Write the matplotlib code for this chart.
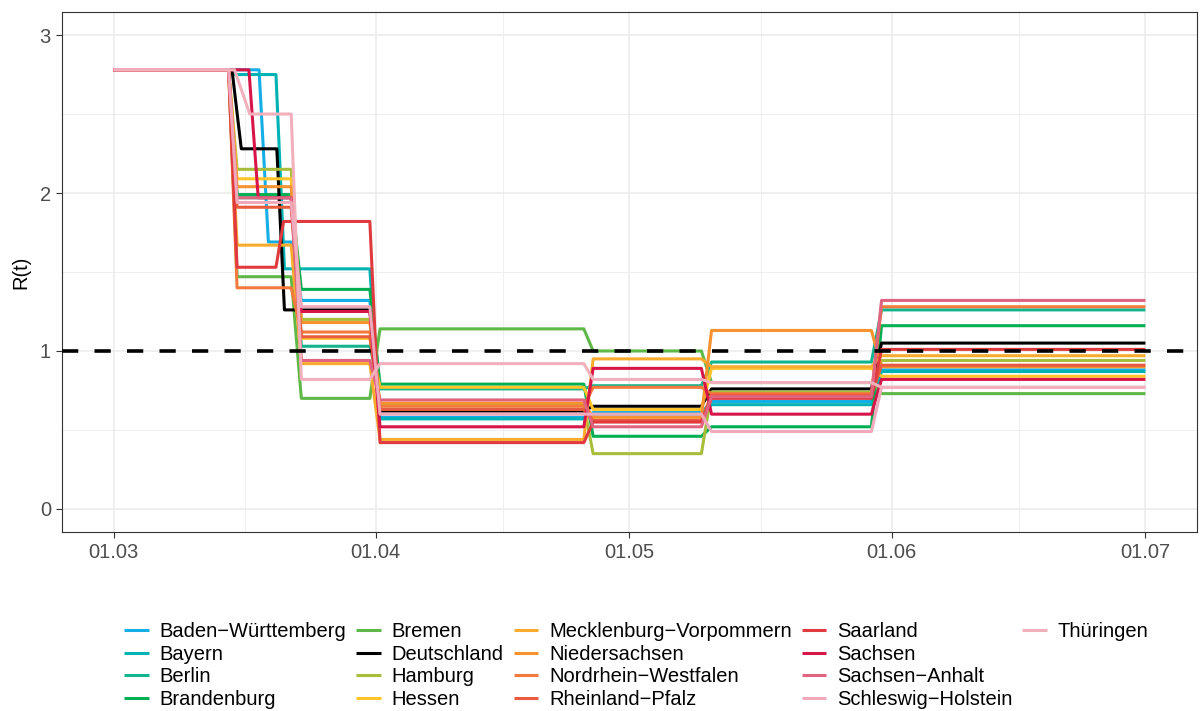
import matplotlib
matplotlib.use("Agg")
import matplotlib.pyplot as plt
import matplotlib.dates as mdates
from matplotlib.lines import Line2D
import numpy as np
import pandas as pd

plt.rcParams['font.family'] = ['Liberation Sans', 'DejaVu Sans']

# ---------------- data ----------------
states = ["Baden\u2212Württemberg", "Bayern", "Berlin", "Brandenburg", "Bremen",
          "Deutschland", "Hamburg", "Hessen", "Mecklenburg\u2212Vorpommern",
          "Niedersachsen", "Nordrhein\u2212Westfalen", "Rheinland\u2212Pfalz",
          "Saarland", "Sachsen", "Sachsen\u2212Anhalt", "Schleswig\u2212Holstein",
          "Thüringen"]

colors = ["#13AEE6", "#00B2B3", "#12B48E", "#00AF52", "#5DB848",
          "#000000", "#A8BD3A", "#FFC42A", "#F9AB2E",
          "#F7932F", "#F37A3C", "#E85B3E",
          "#E0393E", "#D71549", "#E06380", "#F0A9BB",
          "#F2B0BC"]

# R(t) value of each phase (7 phases separated by 6 change points)
R_bw   = [2.78, 1.69, 1.32, 0.58, 0.61, 0.68, 0.88]
R_by   = [2.78, 2.75, 1.52, 0.57, 0.60, 0.66, 0.87]
R_be   = [2.78, 1.97, 1.03, 0.76, 0.78, 0.93, 1.26]
R_bb   = [2.78, 1.99, 1.39, 0.79, 0.46, 0.52, 1.16]
R_hb   = [2.78, 1.47, 0.70, 1.14, 1.00, 0.80, 0.73]
R_de   = [2.78, 2.28, 1.26, 0.62, 0.65, 0.76, 1.05]
R_hh   = [2.78, 2.15, 1.20, 0.66, 0.35, 0.74, 0.94]
R_he   = [2.78, 2.09, 1.08, 0.77, 0.63, 0.89, 0.84]
R_mv   = [2.78, 1.67, 0.92, 0.44, 0.95, 0.90, 0.97]
R_ni   = [2.78, 2.04, 1.18, 0.67, 0.58, 1.13, 0.90]
R_nw   = [2.78, 1.40, 1.12, 0.65, 0.77, 0.73, 1.28]
R_rp   = [2.78, 1.91, 1.09, 0.63, 0.56, 0.72, 0.91]
R_sl   = [2.78, 1.53, 1.82, 0.42, 0.55, 0.70, 1.01]
R_sn   = [2.78, 1.97, 1.25, 0.52, 0.89, 0.60, 0.82]
R_st   = [2.78, 1.97, 0.94, 0.69, 0.52, 0.71, 1.32]
R_sh   = [2.78, 1.94, 1.28, 0.60, 0.60, 0.49, 0.77]
R_th   = [2.78, 2.50, 0.82, 0.92, 0.82, 0.80, 0.77]
values = [R_bw, R_by, R_be, R_bb, R_hb, R_de, R_hh, R_he, R_mv, R_ni, R_nw,
          R_rp, R_sl, R_sn, R_st, R_sh, R_th]

# change points: days after 2020-03-01 where a transition starts, and its length
change_start = [13.6, 21.0, 30.3, 55.6, 69.5, 89.6]
change_len   = [1.0, 1.2, 1.2, 1.1, 1.2, 1.2]
# series-specific change point timing (index: {change_no: (start, length)})
change_override = {
    0:  {0: (17.2, 1.1)},
    1:  {0: (13.6, 0.6), 1: (19.2, 1.0)},
    5:  {0: (14.0, 1.1), 1: (19.3, 0.9)},
    12: {1: (19.2, 0.9)},
    13: {0: (16.0, 1.1)},
    16: {0: (14.3, 1.8)},
}
start_date = "2020-03-01"
end_day = 122  # 2020-07-01

# ---------------- plot ----------------
W, H = 1203, 711
fig = plt.figure(figsize=(W / 100, H / 100), dpi=100)
ax = fig.add_axes([62 / W, 1 - 532 / H, (1197 - 62) / W, (532 - 12) / H])

base = pd.Timestamp(start_date)

def to_dates(days):
    return base + pd.to_timedelta(np.asarray(days, dtype=float), unit="D")

lw = 2.2
for i, (name, col, vals) in enumerate(zip(states, colors, values)):
    xs, ys = [0.0], [vals[0]]
    for k in range(len(change_start)):
        s, d = change_start[k], change_len[k]
        if i in change_override and k in change_override[i]:
            s, d = change_override[i][k]
        xs += [s, s + d]
        ys += [vals[k], vals[k + 1]]
    xs.append(end_day)
    ys.append(vals[-1])
    ax.plot(to_dates(xs), ys, color=col, lw=lw, label=name,
            solid_joinstyle="round", solid_capstyle="butt", zorder=3 + i * 0.01)

ax.axhline(1.0, color="black", lw=2.6, ls=(0, (4.5, 4.5)), zorder=5)

# axes limits & grid
ax.set_xlim(to_dates([-6.1])[0], to_dates([end_day + 6.1])[0])
ax.set_ylim(-0.146, 3.146)
major = pd.date_range("2020-03-01", "2020-07-01", freq="MS")
ax.set_xticks(major)
minor = [major[j] + (major[j + 1] - major[j]) / 2 for j in range(len(major) - 1)]
ax.set_xticks(minor, minor=True)
ax.xaxis.set_major_formatter(mdates.DateFormatter("%d.%m"))
ax.set_yticks([0, 1, 2, 3])
ax.set_yticks([0.5, 1.5, 2.5], minor=True)

ax.grid(which="major", color="#EBEBEB", lw=1.1, zorder=0)
ax.grid(which="minor", color="#EBEBEB", lw=0.55, zorder=0)
ax.set_axisbelow(True)
for sp in ax.spines.values():
    sp.set_color("#333333")
    sp.set_linewidth(0.8)
ax.tick_params(which="major", length=4, width=0.8, color="#333333",
               labelsize=14.5, labelcolor="#4D4D4D", pad=4)
ax.tick_params(which="minor", length=0)
ax.set_ylabel("R(t)", fontsize=14.5, color="black", labelpad=7)

handles, labels = ax.get_legend_handles_labels()
# pad so that the column-major layout is 4,4,4,4,1 as in the reference
for _ in range(3):
    handles.append(Line2D([], [], color="none"))
    labels.append("")
leg = fig.legend(handles, labels, loc="upper center", ncol=5,
                 bbox_to_anchor=(0.529, 1 - 612 / H), frameon=False,
                 fontsize=14.5, handlelength=1.2, handletextpad=0.55,
                 columnspacing=0.5, labelspacing=0.18, borderpad=0)
for l in leg.get_lines():
    l.set_linewidth(2.2)

fig.savefig("out.png", dpi=100)
